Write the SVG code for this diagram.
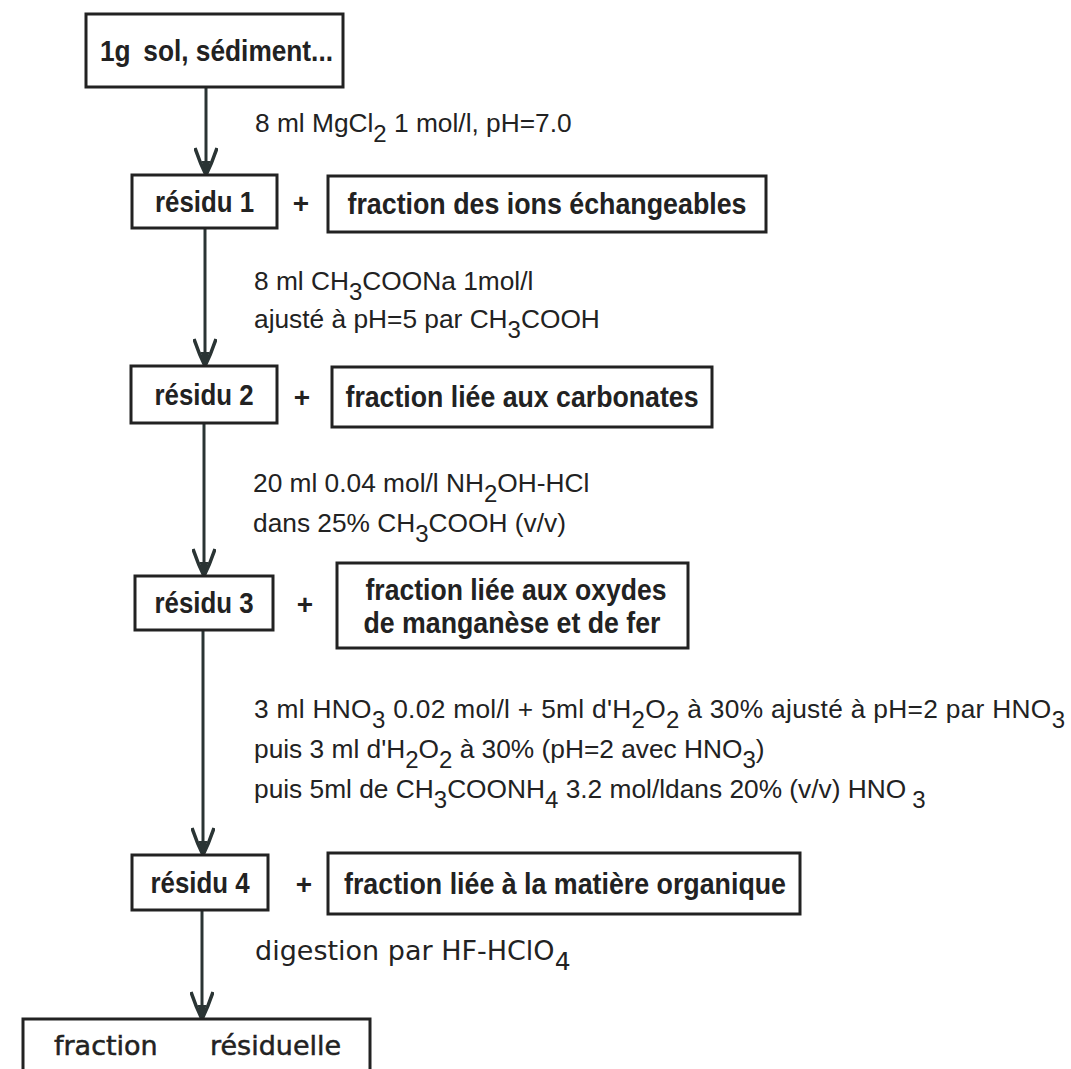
<svg xmlns="http://www.w3.org/2000/svg" width="1071" height="1069" viewBox="0 0 1071 1069">
<style>
  .box { fill: #fff; stroke: #222; stroke-width: 3; }
  .bt { font-family: "Liberation Sans", Arial, sans-serif; font-weight: bold; font-size: 29px; fill: #222; text-anchor: middle; }
  .plus { font-family: "Liberation Sans", Arial, sans-serif; font-weight: bold; font-size: 28px; fill: #222; text-anchor: middle; }
  .lab { font-family: "Liberation Sans", Arial, sans-serif; font-size: 26.3px; fill: #222; }
  .geo { font-family: "DejaVu Sans", sans-serif; font-size: 27px; fill: #222; }
  .conn { stroke: #2a3434; stroke-width: 3; fill: none; }
</style>
<defs>
  <marker id="ah" markerUnits="userSpaceOnUse" markerWidth="30" markerHeight="24" viewBox="0 0 30 24" refX="28" refY="12" orient="auto">
    <path d="M1,1 Q16,6 28,12 Q16,18 1,23" fill="none" stroke="#2a3434" stroke-width="3.5"/>
    <path d="M28,12 L14,7.5 L14,16.5 Z" fill="#2a3434"/>
  </marker>
</defs>

<g id="connectors">
  <line class="conn" x1="206" y1="87" x2="206" y2="175" marker-end="url(#ah)"/>
  <line class="conn" x1="205" y1="228" x2="205" y2="366" marker-end="url(#ah)"/>
  <line class="conn" x1="204" y1="423" x2="204" y2="576" marker-end="url(#ah)"/>
  <line class="conn" x1="203" y1="630" x2="203" y2="855" marker-end="url(#ah)"/>
  <line class="conn" x1="202" y1="910" x2="202" y2="1019" marker-end="url(#ah)"/>
</g>

<g id="labels">
  <text class="lab" x="255" y="132">8 ml MgCl<tspan font-size="24" dy="10">2</tspan><tspan dy="-10"> 1 mol/l, pH=7.0</tspan></text>
  <text class="lab" x="254" y="290">8 ml CH<tspan font-size="24" dy="10">3</tspan><tspan dy="-10">COONa 1mol/l</tspan></text>
  <text class="lab" x="254" y="328">ajusté à pH=5 par CH<tspan font-size="24" dy="10">3</tspan><tspan dy="-10">COOH</tspan></text>
  <text class="lab" x="253" y="492">20 ml 0.04 mol/l NH<tspan font-size="24" dy="10">2</tspan><tspan dy="-10">OH-HCl</tspan></text>
  <text class="lab" x="253" y="532">dans 25% CH<tspan font-size="24" dy="10">3</tspan><tspan dy="-10">COOH (v/v)</tspan></text>
  <text class="lab" x="254" y="718" textLength="811" lengthAdjust="spacing">3 ml HNO<tspan font-size="24" dy="10">3</tspan><tspan dy="-10"> 0.02 mol/l + 5ml d'H</tspan><tspan font-size="24" dy="10">2</tspan><tspan dy="-10">O</tspan><tspan font-size="24" dy="10">2</tspan><tspan dy="-10"> à 30% ajusté à pH=2 par HNO</tspan><tspan font-size="24" dy="10">3</tspan></text>
  <text class="lab" x="254" y="758">puis 3 ml d'H<tspan font-size="24" dy="10">2</tspan><tspan dy="-10">O</tspan><tspan font-size="24" dy="10">2</tspan><tspan dy="-10"> à 30% (pH=2 avec HNO</tspan><tspan font-size="24" dy="10">3</tspan><tspan dy="-10">)</tspan></text>
  <text class="lab" x="254" y="798">puis 5ml de CH<tspan font-size="24" dy="10">3</tspan><tspan dy="-10">COONH</tspan><tspan font-size="24" dy="10">4</tspan><tspan dy="-10"> 3.2 mol/ldans 20% (v/v) HNO</tspan><tspan font-size="24" dx="6" dy="10">3</tspan></text>
  <text class="geo" x="255" y="960">digestion par HF-HClO<tspan font-size="25" dy="10">4</tspan></text>
</g>

<g id="n-start">
  <rect class="box" x="86" y="14" width="257" height="73"/>
  <text class="bt" x="100" y="61" textLength="233" lengthAdjust="spacingAndGlyphs" style="text-anchor:start">1g<tspan dx="14">sol, sédiment...</tspan></text>
</g>

<g id="n-residu1">
  <rect class="box" x="132" y="175" width="145" height="53"/>
  <text class="bt" x="204.5" y="212" textLength="99" lengthAdjust="spacingAndGlyphs">résidu 1</text>
</g>
<text class="plus" x="301" y="213">+</text>
<g id="n-fraction1">
  <rect class="box" x="328" y="176" width="438" height="56"/>
  <text class="bt" x="547" y="214" textLength="399" lengthAdjust="spacingAndGlyphs">fraction des ions échangeables</text>
</g>

<g id="n-residu2">
  <rect class="box" x="131" y="366" width="146" height="57"/>
  <text class="bt" x="204" y="405" textLength="99" lengthAdjust="spacingAndGlyphs">résidu 2</text>
</g>
<text class="plus" x="302" y="407">+</text>
<g id="n-fraction2">
  <rect class="box" x="332" y="367" width="380" height="60"/>
  <text class="bt" x="522" y="407" textLength="353" lengthAdjust="spacingAndGlyphs">fraction liée aux carbonates</text>
</g>

<g id="n-residu3">
  <rect class="box" x="135" y="576" width="138" height="54"/>
  <text class="bt" x="204" y="613" textLength="99" lengthAdjust="spacingAndGlyphs">résidu 3</text>
</g>
<text class="plus" x="305" y="614">+</text>
<g id="n-fraction3">
  <rect class="box" x="337" y="563" width="351" height="85"/>
  <text class="bt" x="516" y="600" textLength="301" lengthAdjust="spacingAndGlyphs">fraction liée aux oxydes</text>
  <text class="bt" x="512" y="633" textLength="297" lengthAdjust="spacingAndGlyphs">de manganèse et de fer</text>
</g>

<g id="n-residu4">
  <rect class="box" x="132" y="855" width="136" height="55"/>
  <text class="bt" x="200" y="893" textLength="99" lengthAdjust="spacingAndGlyphs">résidu 4</text>
</g>
<text class="plus" x="304" y="894">+</text>
<g id="n-fraction4">
  <rect class="box" x="328" y="853" width="472" height="61"/>
  <text class="bt" x="565" y="894" textLength="442" lengthAdjust="spacingAndGlyphs">fraction liée à la matière organique</text>
</g>

<g id="n-residuelle">
  <rect class="box" x="23" y="1019" width="347" height="70"/>
  <text class="geo" x="54" y="1055" stroke="#222" stroke-width="0.5">fraction</text>
  <text class="geo" x="210" y="1055" stroke="#222" stroke-width="0.5">résiduelle</text>
</g>
</svg>
